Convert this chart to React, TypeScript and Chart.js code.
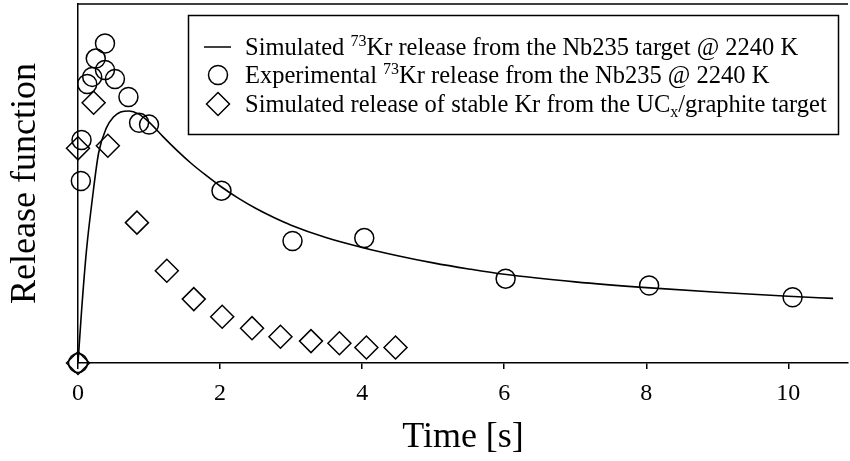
import { useEffect, useRef } from 'react';
import { Chart, registerables } from 'chart.js';

Chart.register(...registerables);

// Simulated 73Kr release curve (Nb235 target, 2240 K)
const simTime = [0, 0.05, 0.12, 0.2, 0.29, 0.4, 0.5, 0.6, 0.72, 0.85, 1.0, 1.2, 1.4, 1.6, 1.8, 2.0, 2.25, 2.5, 2.75, 3.0, 3.5, 4.0, 4.5, 5.0, 5.5, 6.0, 7.0, 8.0, 9.0, 10.0, 10.63];
const simRelease = [0, 14.5, 31.5, 45.4, 58.5, 65.5, 68.5, 69.9, 70.2, 69.4, 67.1, 63.0, 59.1, 55.5, 52.3, 49.3, 46.0, 43.1, 40.6, 38.4, 34.9, 32.2, 29.9, 27.9, 26.2, 24.7, 22.6, 21.0, 19.7, 18.6, 18.0];

// Experimental 73Kr release
const expTime = [0, 0.04, 0.05, 0.13, 0.2, 0.25, 0.38, 0.38, 0.52, 0.71, 0.86, 1.0, 2.02, 3.02, 4.03, 6.02, 8.04, 10.06];
const expRelease = [0, 50.7, 62.1, 77.7, 79.7, 84.8, 89.0, 81.6, 79.1, 74.1, 66.9, 66.4, 48.0, 34.0, 34.8, 23.5, 21.6, 18.3];

// Simulated stable Kr release (UCx/graphite target)
const stableTime = [0, 0.0, 0.22, 0.42, 0.83, 1.25, 1.63, 2.03, 2.45, 2.85, 3.28, 3.68, 4.06, 4.47];
const stableRelease = [0, 59.8, 72.5, 60.5, 39.1, 25.7, 17.8, 12.9, 9.7, 7.3, 6.1, 5.5, 4.3, 4.3];

const xTicks = [0, 2, 4, 6, 8, 10];

type Piece = { t: string; k?: 'sup' | 'sub' };
const legendRows: Piece[][] = [
  [{ t: 'Simulated ' }, { t: '73', k: 'sup' }, { t: 'Kr release from the Nb235 target @ 2240 K' }],
  [{ t: 'Experimental ' }, { t: '73', k: 'sup' }, { t: 'Kr release from the Nb235 @ 2240 K' }],
  [{ t: 'Simulated release of stable Kr from the UC' }, { t: 'x', k: 'sub' }, { t: '/graphite target' }],
];

const FONT = '"Liberation Serif", "Times New Roman", serif';
const zip = (xs: number[], ys: number[]) => xs.map((x, i) => ({ x, y: ys[i] }));

const frameAndLegend = {
  id: 'frameAndLegend',
  afterDraw(chart: any) {
    const { ctx, chartArea } = chart;
    ctx.save();
    ctx.strokeStyle = '#000';
    ctx.lineWidth = 1.5;
    // top frame line
    ctx.beginPath();
    ctx.moveTo(chartArea.left, chartArea.top);
    ctx.lineTo(chartArea.right, chartArea.top);
    ctx.stroke();

    // legend box
    const bx = 188.5, by = 15.5, bw = 650, bh = 119;
    ctx.fillStyle = '#fff';
    ctx.fillRect(bx, by, bw, bh);
    ctx.strokeRect(bx, by, bw, bh);

    const rowY = [47, 75, 104];
    const symX = 218;
    const textX = 245;
    const size = 24.5;
    rowY.forEach((y, i) => {
      ctx.strokeStyle = '#000';
      ctx.lineWidth = 1.5;
      ctx.beginPath();
      if (i === 0) {
        ctx.moveTo(204, y);
        ctx.lineTo(231, y);
      } else if (i === 1) {
        ctx.arc(symX, y, 9.5, 0, Math.PI * 2);
      } else {
        const r = 11.5;
        ctx.moveTo(symX, y - r);
        ctx.lineTo(symX + r, y);
        ctx.lineTo(symX, y + r);
        ctx.lineTo(symX - r, y);
        ctx.closePath();
      }
      ctx.stroke();

      ctx.fillStyle = '#000';
      ctx.textBaseline = 'alphabetic';
      ctx.textAlign = 'left';
      let x = textX;
      const base = y + 8;
      legendRows[i].forEach((p) => {
        if (p.k) {
          ctx.font = `${Math.round(size * 0.65)}px ${FONT}`;
          const dy = p.k === 'sup' ? -size * 0.38 : size * 0.22;
          ctx.fillText(p.t, x, base + dy);
        } else {
          ctx.font = `${size}px ${FONT}`;
          ctx.fillText(p.t, x, base);
        }
        x += ctx.measureText(p.t).width;
      });
    });
    ctx.restore();
  },
};

export default function App() {
  const ref = useRef<HTMLCanvasElement | null>(null);

  useEffect(() => {
    if (!ref.current) return;
    const chart = new Chart(ref.current, {
      type: 'scatter',
      data: {
        datasets: [
          {
            label: 'Simulated 73Kr release from the Nb235 target @ 2240 K',
            data: zip(simTime, simRelease),
            showLine: true,
            borderColor: '#000',
            borderWidth: 1.6,
            pointRadius: 0,
            cubicInterpolationMode: 'monotone',
            clip: false,
          },
          {
            label: 'Experimental 73Kr release from the Nb235 @ 2240 K',
            data: zip(expTime, expRelease),
            showLine: false,
            pointStyle: 'circle',
            pointRadius: 9.5,
            pointBorderWidth: 1.5,
            pointBorderColor: '#000',
            pointBackgroundColor: 'rgba(0,0,0,0)',
            clip: false,
          },
          {
            label: 'Simulated release of stable Kr from the UCx/graphite target',
            data: zip(stableTime, stableRelease),
            showLine: false,
            pointStyle: 'rectRot',
            pointRadius: 11.5,
            pointBorderWidth: 1.5,
            pointBorderColor: '#000',
            pointBackgroundColor: 'rgba(0,0,0,0)',
            clip: false,
          },
        ],
      },
      options: {
        animation: false,
        responsive: false,
        events: [],
        layout: { autoPadding: false, padding: { top: 4, right: 2, left: 0, bottom: 0 } },
        plugins: { legend: { display: false }, tooltip: { enabled: false } },
        scales: {
          x: {
            type: 'linear',
            min: 0,
            max: 10.84,
            afterFit: (s: any) => { s.height = 98; },
            afterBuildTicks: (s: any) => { s.ticks = xTicks.map((v) => ({ value: v })); },
            grid: { display: true, drawOnChartArea: false, drawTicks: true, tickLength: 6, color: '#000', lineWidth: 1.5 },
            border: { display: true, color: '#000', width: 1.5 },
            ticks: { color: '#000', font: { family: FONT, size: 24 }, padding: 10, maxRotation: 0, includeBounds: false },
            title: { display: true, text: 'Time [s]', color: '#000', font: { family: FONT, size: 36 }, padding: { top: 0, bottom: 2 } },
          },
          y: {
            type: 'linear',
            min: 0,
            max: 100,
            afterFit: (s: any) => { s.width = 78; },
            grid: { display: false },
            border: { display: true, color: '#000', width: 1.5 },
            ticks: { display: false },
            title: { display: true, text: 'Release function', color: '#000', font: { family: FONT, size: 36 }, padding: { top: 4, bottom: 0 } },
          },
        },
      },
      plugins: [frameAndLegend],
    });
    return () => chart.destroy();
  }, []);

  return (
    <div style={{ position: 'fixed', left: 0, top: 0, width: 850, height: 461, background: '#fff' }}>
      <canvas ref={ref} width={850} height={461} style={{ width: 850, height: 461, display: 'block' }} />
    </div>
  );
}
